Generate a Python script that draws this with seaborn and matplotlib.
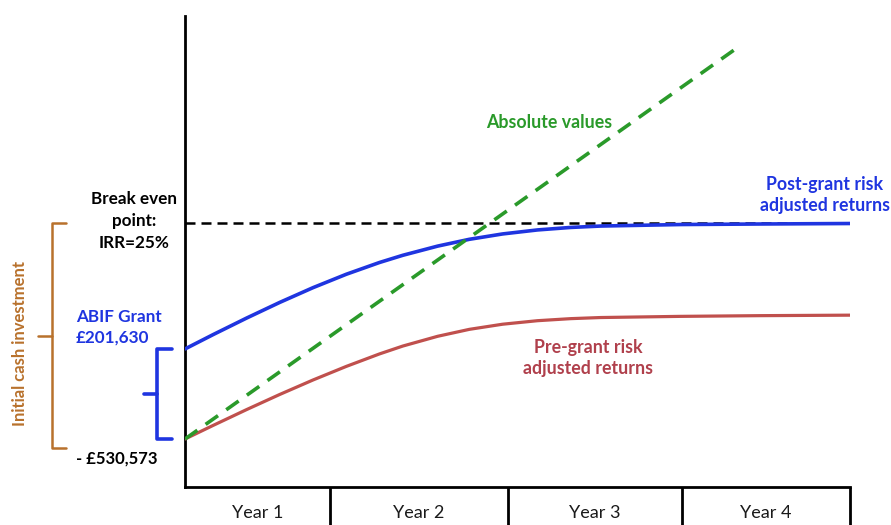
import matplotlib
matplotlib.use("Agg")
import matplotlib.pyplot as plt
import numpy as np
import pandas as pd
import seaborn as sns

# Cash position (£ thousands) across the four-year horizon
years = [0.0, 0.17, 0.37, 0.57, 0.77, 0.97, 1.17, 1.31, 1.52, 1.71,
         1.91, 2.12, 2.32, 2.5, 2.98, 3.46, 4.0]
post_grant = [-328.9, -296.6, -259.8, -224.6, -191.6, -161.6, -135.2,
              -119.1, -98.5, -83.3, -71.3, -62.3, -56.7, -53.6, -50.2,
              -49.0, -47.9]
pre_grant = [-530.6, -500.0, -464.8, -430.8, -398.4, -368.0, -340.0,
             -322.4, -300.5, -285.0, -273.5, -265.6, -261.0, -258.5,
             -255.9, -254.3, -253.2]
absolute_years = [0.0, 3.32]
absolute_values = [-530.6, 345.3]

initial_investment = 530573   # £
abif_grant = 201630           # £
break_even = -47.0            # £ thousands, IRR = 25%
year_edges = [0.0, 0.87, 1.94, 2.99, 4.0]
year_labels = ["Year 1", "Year 2", "Year 3", "Year 4"]

BLUE = "#1f35e0"
RED = "#c0504d"
GREEN = "#2a9a2a"
ORANGE = "#b8712c"
PRE_TXT = "#b0404c"

sns.set_theme(style="white")
plt.rcParams["font.family"] = ["Lato", "DejaVu Sans"]

W, H = 891, 525
fig = plt.figure(figsize=(W / 100, H / 100), dpi=100)
x0, x1, y_top, y_axis = 185, 850, 16, 487
ax = fig.add_axes([x0 / W, (H - y_axis) / H, (x1 - x0) / W, (y_axis - y_top) / H])

curves = pd.DataFrame({
    "year": years * 2,
    "value": post_grant + pre_grant,
    "series": ["Post-grant"] * len(years) + ["Pre-grant"] * len(years),
})
sns.lineplot(data=curves, x="year", y="value", hue="series",
             palette={"Post-grant": BLUE, "Pre-grant": RED},
             linewidth=2.6, legend=False, ax=ax, zorder=4)
ax.lines[1].set_linewidth(2.3)
for ln in ax.lines:
    ln.set_solid_joinstyle("round")

# Break-even reference level
ax.plot([0, 4.0], [break_even, break_even], color="black", lw=1.8,
        dashes=(4.0, 2.4), zorder=3)

abs_df = pd.DataFrame({"year": absolute_years, "value": absolute_values})
sns.lineplot(data=abs_df, x="year", y="value", color=GREEN, linewidth=2.6,
             ax=ax, zorder=5)
ax.lines[-1].set_dashes((4.2, 2.8))

ax.set_xlim(0, 4.0)
ax.set_ylim(-638.1, 416.9)
ax.set_xticks([])
ax.set_yticks([])
ax.set_xlabel("")
ax.set_ylabel("")
for side in ("top", "right"):
    ax.spines[side].set_visible(False)
for side in ("left", "bottom"):
    ax.spines[side].set_color("black")
    ax.spines[side].set_linewidth(2)

# Year table under the axis
table_bottom = -(H - y_axis + 2) / (y_axis - y_top)
xt = ax.get_xaxis_transform()
for edge in year_edges[1:]:
    ax.plot([edge, edge], [0, table_bottom], transform=xt, color="black",
            lw=2, clip_on=False, solid_capstyle="butt")
label_y = -(513 - y_axis) / (y_axis - y_top)
for left, right, lab in zip(year_edges[:-1], year_edges[1:], year_labels):
    ax.text((left + right) / 2, label_y, lab, transform=xt, ha="center",
            va="center", fontsize=13, color="#1a1a1a")

# Braces on the left margin (x in axes fraction, y in data)
yt = ax.get_yaxis_transform()


def to_ax(px):
    return (px - x0) / (x1 - x0)


def brace(spine_px, arm_px, tip_px, y_hi, y_lo, color, lw):
    xs = [to_ax(arm_px), to_ax(spine_px), to_ax(spine_px), to_ax(arm_px)]
    ys = [y_hi, y_hi, y_lo, y_lo]
    ax.plot(xs, ys, transform=yt, color=color, lw=lw, clip_on=False,
            solid_joinstyle="round", solid_capstyle="round")
    mid = (y_hi + y_lo) / 2
    ax.plot([to_ax(spine_px), to_ax(tip_px)], [mid, mid], transform=yt,
            color=color, lw=lw, clip_on=False, solid_capstyle="round")


start_pre = -initial_investment / 1000
start_post = (-initial_investment + abif_grant) / 1000
brace(157, 172, 144, start_post, start_pre, BLUE, 2.6)
brace(52, 66, 38, break_even, start_pre - 20, ORANGE, 1.8)


def fpos(px, py):
    return px / W, 1 - py / H


bold = dict(fontweight="bold")
fig.text(*fpos(134, 221), "Break even\npoint:\nIRR=25%", ha="center",
         va="center", fontsize=12.3, color="black", linespacing=1.45, **bold)
fig.text(*fpos(76, 327), f"ABIF Grant\n£{abif_grant:,}", ha="left",
         va="center", fontsize=12.3, color=BLUE, linespacing=1.35, **bold)
fig.text(*fpos(76, 459), f"- £{initial_investment:,}", ha="left",
         va="center", fontsize=12, color="black", **bold)
fig.text(*fpos(20, 343), "Initial cash investment", ha="center",
         va="center", rotation=90, fontsize=12, color=ORANGE, **bold)
fig.text(*fpos(549, 122), "Absolute values", ha="center", va="center",
         fontsize=12.8, color=GREEN, **bold)
fig.text(*fpos(825, 195), "Post-grant risk\nadjusted returns", ha="center",
         va="center", fontsize=12.8, color=BLUE, linespacing=1.35, **bold)
fig.text(*fpos(588, 358), "Pre-grant risk\nadjusted returns", ha="center",
         va="center", fontsize=12.8, color=PRE_TXT, linespacing=1.35, **bold)

fig.savefig("out.png", dpi=100)
